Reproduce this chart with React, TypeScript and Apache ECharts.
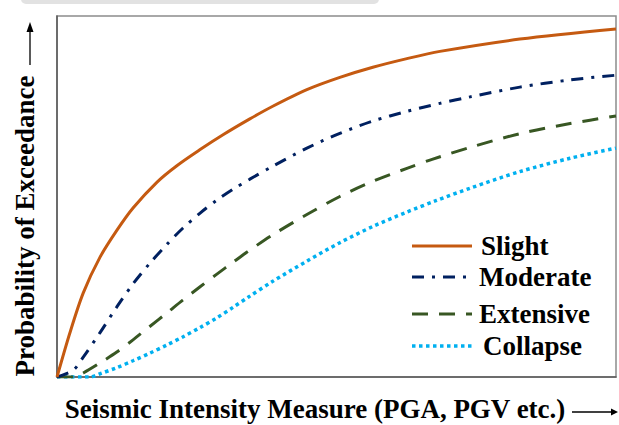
import React, { useEffect, useRef } from "react";
import * as echarts from "echarts";

// Fragility curves: intensity measure (% of axis) vs probability of exceedance (%)
const slightX = [0, 2.3, 4.7, 7.7, 10.7, 13.6, 17.9, 21.5, 25.6, 29.7, 34.5, 38.6, 44.7, 50.6, 56.5, 62.6, 68.5, 82.8, 100];
const slightY = [0, 12.2, 23.3, 33.2, 40.6, 46.8, 54.0, 58.6, 63.0, 67.1, 71.5, 75.0, 79.6, 83.0, 85.8, 88.2, 90.2, 93.6, 96.4];

const moderateX = [0, 2.9, 4.7, 7.7, 10.7, 13.6, 16.6, 19.7, 22.5, 25.6, 28.6, 31.5, 34.5, 38.6, 44.7, 50.6, 56.5, 62.6, 68.5, 73.9, 82.8, 91.8, 100];
const moderateY = [0, 1.9, 5.5, 12.3, 19.4, 25.8, 31.5, 36.8, 41.2, 45.4, 49.0, 52.0, 54.8, 58.4, 63.4, 67.5, 70.9, 73.6, 75.8, 77.6, 80.3, 82.3, 83.6];

const extensiveX = [0, 3.2, 4.7, 7.7, 10.7, 13.6, 16.6, 19.7, 22.5, 25.6, 28.6, 31.5, 34.0, 38.6, 44.7, 50.6, 56.5, 62.6, 67.1, 73.9, 82.8, 91.8, 100];
const extensiveY = [0, 0, 1.1, 3.9, 6.9, 10.3, 14.0, 17.8, 21.3, 25.0, 28.5, 31.8, 34.6, 39.4, 45.0, 50.0, 54.2, 57.8, 60.3, 63.6, 67.4, 70.2, 72.3];

const collapseX = [0, 5.9, 7.7, 10.7, 13.6, 16.6, 19.7, 22.5, 25.6, 28.6, 31.5, 34.2, 38.6, 44.7, 50.6, 56.5, 62.6, 67.9, 73.9, 82.8, 91.8, 100];
const collapseY = [0, 0, 0.9, 2.6, 4.5, 6.6, 8.9, 11.1, 13.7, 16.4, 19.3, 22.1, 26.5, 32.1, 37.2, 41.7, 45.7, 48.9, 52.3, 56.9, 60.6, 63.4];

const stateNames = ["Slight", "Moderate", "Extensive", "Collapse"];
const xTitle = "Seismic Intensity Measure (PGA, PGV etc.)";
const yTitle = "Probability of Exceedance";

const SERIF = "'Liberation Serif', 'Times New Roman', serif";

const pairs = (xs: number[], ys: number[]) => xs.map((x, i) => [x, ys[i]]);

const styles = [
  { color: "#c55a11", width: 3, dash: null as number[] | null },
  { color: "#002060", width: 3, dash: [12, 8, 3, 8] },
  { color: "#385723", width: 3, dash: [16, 11] },
  { color: "#00b0f0", width: 3.5, dash: [3.5, 3.5] },
];

const legendRows = [246, 277, 314, 346];
const legendTextX = [481, 479, 479, 483];

export default function App() {
  const ref = useRef<HTMLDivElement>(null);

  useEffect(() => {
    if (!ref.current) return;
    const chart = echarts.init(ref.current, null, { renderer: "svg" });

    const seriesData = [
      pairs(slightX, slightY),
      pairs(moderateX, moderateY),
      pairs(extensiveX, extensiveY),
      pairs(collapseX, collapseY),
    ];

    const legendGraphics: any[] = [];
    stateNames.forEach((name, i) => {
      const s = styles[i];
      legendGraphics.push({
        type: "line",
        shape: { x1: 412, y1: legendRows[i], x2: 472, y2: legendRows[i] },
        style: {
          stroke: s.color,
          lineWidth: s.width,
          lineDash: s.dash || undefined,
        },
        silent: true,
      });
      legendGraphics.push({
        type: "text",
        x: legendTextX[i],
        y: legendRows[i],
        style: {
          text: name,
          font: `bold 27px ${SERIF}`,
          fill: "#000",
          verticalAlign: "middle",
        },
        silent: true,
      });
    });

    chart.setOption({
      animation: false,
      backgroundColor: "#fff",
      grid: {
        left: 57,
        top: 16,
        right: 3,
        bottom: 48,
        show: true,
        borderColor: "#8c8c8c",
        borderWidth: 1.5,
        backgroundColor: "transparent",
      },
      xAxis: {
        type: "value",
        min: 0,
        max: 100,
        axisLine: { show: true, lineStyle: { color: "#595959", width: 1.5 } },
        axisTick: { show: false },
        axisLabel: { show: false },
        splitLine: { show: false },
      },
      yAxis: {
        type: "value",
        min: 0,
        max: 100,
        axisLine: { show: true, lineStyle: { color: "#595959", width: 1.5 } },
        axisTick: { show: false },
        axisLabel: { show: false },
        splitLine: { show: false },
      },
      series: seriesData.map((data, i) => ({
        type: "line",
        name: stateNames[i],
        data,
        smooth: 0.3,
        showSymbol: false,
        symbol: "none",
        z: 10 - i,
        lineStyle: {
          color: styles[i].color,
          width: styles[i].width,
          type: styles[i].dash || "solid",
          cap: "butt",
        },
      })),
      graphic: [
        {
          type: "rect",
          shape: { x: 21, y: -6, width: 358, height: 10, r: 5 },
          style: { fill: "#e2e2e2" },
          silent: true,
        },
        {
          type: "text",
          x: 25,
          y: 226,
          rotation: Math.PI / 2,
          style: {
            text: yTitle,
            font: `bold 27px ${SERIF}`,
            fill: "#000",
            align: "center",
            verticalAlign: "middle",
          },
          silent: true,
        },
        {
          type: "line",
          shape: { x1: 30, y1: 65, x2: 30, y2: 30 },
          style: { stroke: "#000", lineWidth: 1.3 },
          silent: true,
        },
        {
          type: "polygon",
          shape: { points: [[26.5, 32], [33.5, 32], [30, 22]] },
          style: { fill: "#000" },
          silent: true,
        },
        {
          type: "text",
          x: 315,
          y: 409,
          style: {
            text: xTitle,
            font: `bold 27px ${SERIF}`,
            fill: "#000",
            align: "center",
            verticalAlign: "middle",
          },
          silent: true,
        },
        {
          type: "line",
          shape: { x1: 572, y1: 412, x2: 612, y2: 412 },
          style: { stroke: "#000", lineWidth: 1.3 },
          silent: true,
        },
        {
          type: "polygon",
          shape: { points: [[611, 408.5], [611, 415.5], [618, 412]] },
          style: { fill: "#000" },
          silent: true,
        },
        ...legendGraphics,
      ],
    });

    return () => chart.dispose();
  }, []);

  return (
    <div
      ref={ref}
      style={{ position: "fixed", left: 0, top: 0, width: 619, height: 425 }}
    />
  );
}
